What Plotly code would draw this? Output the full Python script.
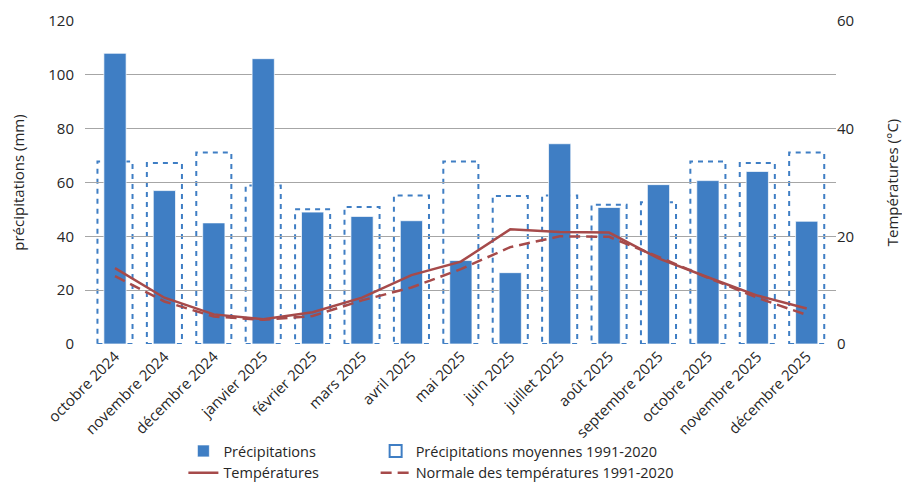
import plotly.graph_objects as go

months = ["octobre 2024", "novembre 2024", "décembre 2024", "janvier 2025", "février 2025",
          "mars 2025", "avril 2025", "mai 2025", "juin 2025", "juillet 2025", "août 2025",
          "septembre 2025", "octobre 2025", "novembre 2025", "décembre 2025"]
precip = [108, 57, 45, 106, 49, 47.4, 45.8, 31, 26.5, 74.4, 50.7, 59.2, 60.7, 64.1, 45.6]
precip_norm = [67.8, 67.2, 71.1, 58.9, 50.1, 50.9, 55.2, 67.8, 55.0, 55.2, 51.7, 52.7, 67.8, 67.2, 71.1]
temp = [14.1, 8.6, 5.5, 4.6, 5.9, 8.6, 12.8, 15.3, 21.3, 20.8, 20.7, 15.9, 12.4, 9.0, 6.6]
temp_norm = [12.6, 7.9, 5.1, 4.5, 5.2, 8.1, 10.5, 13.9, 18.0, 20.0, 19.9, 16.2, 12.3, 8.6, 5.4]

BLUE = "#3f7ec4"
RED = "#a64a4a"
FONT = "Open Sans"
idx = list(range(len(months)))
half = 0.355

fig = go.Figure()

fig.add_trace(go.Bar(x=idx, y=precip, width=0.45, name="Précipitations",
                     marker=dict(color=BLUE, line=dict(color="rgba(255,255,255,0.7)", width=1)),
                     yaxis="y", legend="legend", legendrank=1))
fig.add_trace(go.Scatter(x=idx, y=temp, mode="lines", name="Températures",
                         line=dict(color=RED, width=2.5), yaxis="y2", legend="legend", legendrank=2))
fig.add_trace(go.Scatter(x=idx, y=temp_norm, mode="lines", name="Normale des températures 1991-2020",
                         line=dict(color=RED, width=2.5, dash="11px,6px"), yaxis="y2",
                         legend="legend2", legendrank=2))

for i, v in zip(idx, precip_norm):
    fig.add_shape(type="rect", xref="x", yref="y", x0=i - half, x1=i + half, y0=0, y1=v,
                  line=dict(color=BLUE, width=2, dash="5px,5px"), fillcolor="rgba(0,0,0,0)",
                  layer="below", name="Précipitations moyennes 1991-2020",
                  showlegend=(i == 0), legend="legend2", legendgroup="pm", legendrank=1)

fig.update_layout(
    width=902, height=489,
    margin=dict(l=85, r=66, t=21, b=145, autoexpand=False),
    plot_bgcolor="white", paper_bgcolor="white",
    font=dict(family=FONT, size=15, color="#262626"),
    barmode="overlay",
    xaxis=dict(range=[-0.607, 14.593], tickmode="array", tickvals=idx, ticktext=months,
               tickangle=-45, showgrid=False, zeroline=False, showline=False, ticks="",
               tickfont=dict(size=15), automargin=False),
    yaxis=dict(range=[0, 120], dtick=20, showgrid=True, gridcolor="#a6a6a6", gridwidth=1,
               zeroline=False, showline=False, ticks="", automargin=False, ticklabelstandoff=10,
               title=dict(text="précipitations (mm)", standoff=20, font=dict(size=15))),
    yaxis2=dict(range=[0, 60], dtick=20, overlaying="y", side="right", showgrid=False,
                zeroline=False, showline=False, ticks="", automargin=False,
                title=dict(text="Températures (°C)", standoff=34, font=dict(size=15))),
    showlegend=True,
    legend=dict(x=0.131, y=-0.449, xanchor="left", yanchor="bottom", orientation="v",
                font=dict(size=14.5), bgcolor="rgba(0,0,0,0)", tracegroupgap=0),
    legend2=dict(x=0.387, y=-0.449, xanchor="left", yanchor="bottom", orientation="v",
                 font=dict(size=14.5), bgcolor="rgba(0,0,0,0)", tracegroupgap=0),
)

fig.write_html("out.html", config={"displayModeBar": False},
               post_script="document.body.style.margin='0';")
